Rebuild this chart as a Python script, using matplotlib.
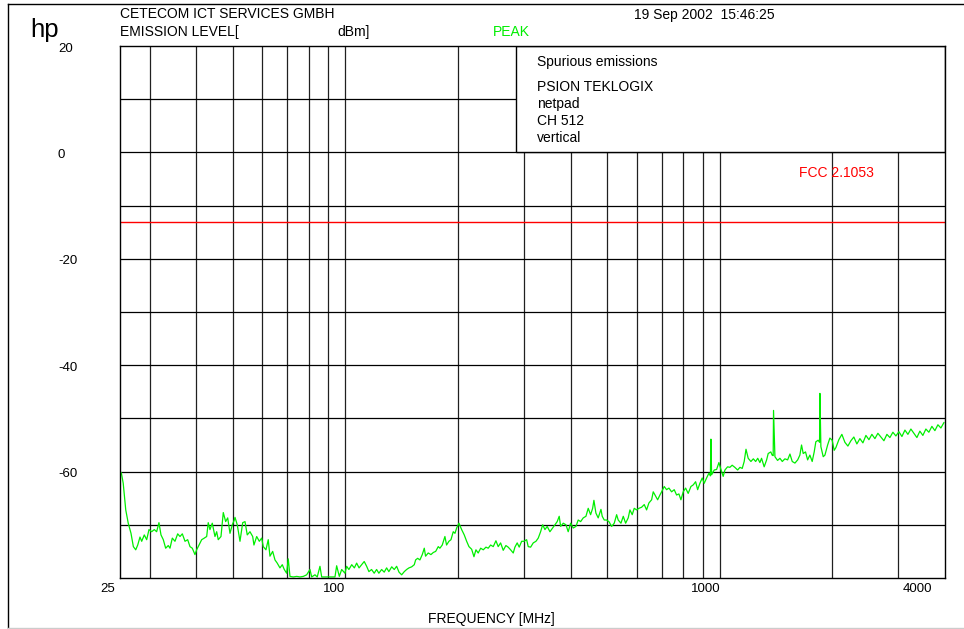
import matplotlib
matplotlib.use("Agg")
import matplotlib.pyplot as plt
from matplotlib import transforms
from matplotlib.patches import Rectangle
from matplotlib.lines import Line2D
from matplotlib.ticker import NullLocator

# ---------------- data ----------------
freq_mhz = [
    25.2, 25.5, 25.9, 26.3, 26.75, 27.14, 27.54, 27.88, 28.27, 28.57,
    29.03, 29.46, 29.88, 30.38, 30.87, 31.32, 31.77, 32.17, 32.63, 33.11,
    33.64, 34.00, 34.49, 35.06, 35.65, 36.16, 36.68, 37.29, 37.91, 38.45,
    39.00, 39.65, 40.06, 40.64, 41.32, 41.99, 42.61, 43.02, 43.48, 44.10,
    44.84, 45.31, 45.75, 46.53, 47.19, 47.89, 48.49, 49.18, 49.88, 50.50,
    50.72, 51.43, 52.30, 53.18, 53.94, 54.69, 55.61, 56.55, 56.99, 57.96,
    58.90, 59.76, 60.36, 61.36, 62.23, 62.89, 63.95, 64.86, 65.76, 66.88,
    67.84, 68.68, 69.69, 70.37, 71.13, 72.60, 74.12, 75.64, 77.20, 78.82,
    80.44, 81.29, 82.96, 84.12, 85.54, 86.44, 88.22, 90.97, 93.82, 94.79,
    96.35, 97.76, 99.77, 100.8, 102.2, 104.0, 105.7, 107.2, 108.8, 110.5,
    112.3, 114.0, 115.6, 117.5, 119.4, 121.2, 122.9, 125.0, 127.0, 128.9,
    130.7, 133.0, 135.1, 137.1, 139.1, 141.4, 143.7, 145.8, 147.9, 150.4,
    152.8, 154.1, 156.0, 158.2, 160.5, 162.5, 163.8, 166.5, 169.3, 171.8,
    174.3, 177.1, 178.9, 181.5, 184.5, 186.4, 189.1, 191.5, 194.2, 196.3,
    198.3, 201.1, 204.5, 207.8, 210.9, 213.9, 217.5, 220.6, 223.3, 226.4,
    229.9, 233.6, 237.5, 240.8, 244.4, 248.4, 252.5, 256.1, 259.9, 264.1,
    268.5, 272.3, 276.4, 280.9, 283.8, 287.8, 291.4, 295.8, 300.0, 305.0,
    308.0, 312.6, 317.7, 323.0, 327.6, 332.4, 336.6, 341.4, 346.1, 352.0,
    358.0, 363.0, 368.1, 372.7, 376.0, 382.1, 388.5, 393.9, 399.8, 406.3,
    413.1, 418.9, 425.2, 432.1, 439.3, 445.5, 452.1, 457.8, 461.4, 467.1,
    473.7, 481.8, 485.6, 491.7, 498.9, 506.0, 514.5, 522.9, 530.6, 535.8,
    544.9, 552.7, 560.8, 569.8, 575.8, 584.0, 591.3, 600.0, 608.6, 618.7,
    628.8, 638.0, 647.1, 658.0, 664.6, 674.4, 682.9, 692.5, 699.8, 711.1,
    721.6, 731.9, 744.1, 756.2, 767.3, 778.3, 788.0, 799.2, 811.1, 824.0,
    838.0, 850.0, 862.5, 873.4, 885.6, 898.3, 909.4, 922.8, 936.0, 944.7,
    947.6, 951.7, 967.1, 981.4, 995.4, 1008, 1022, 1033, 1050, 1065,
    1080, 1098, 1117, 1133, 1149, 1163, 1176, 1192, 1212, 1230,
    1248, 1264, 1281, 1294, 1315, 1335, 1348, 1370, 1381, 1390,
    1393, 1405, 1428, 1449, 1470, 1494, 1519, 1541, 1563, 1589,
    1616, 1638, 1655, 1672, 1696, 1718, 1742, 1767, 1789, 1807,
    1833, 1849, 1853, 1864, 1891, 1911, 1943, 1970, 1998, 2023,
    2044, 2082, 2121, 2161, 2201, 2242, 2283, 2326, 2370, 2414,
    2459, 2505, 2551, 2599, 2647, 2697, 2747, 2798, 2850, 2903,
    2957, 3012, 3069, 3126, 3184, 3243, 3303, 3365, 3427, 3491,
    3556, 3622, 3690, 3759, 3829, 3900, 3973,
]
level_dbm = [
    -60.2, -62.2, -67.2, -69.7, -71.6, -74.1, -74.7, -73.8, -72.3, -73.1,
    -71.9, -72.8, -70.9, -71.3, -70.9, -71.3, -69.6, -71.9, -72.8, -74.4,
    -73.9, -74.4, -72.5, -73.1, -71.7, -72.2, -71.7, -73.1, -72.8, -74.1,
    -74.4, -75.6, -74.7, -73.8, -72.8, -72.5, -72.2, -69.6, -70.9, -69.7,
    -72.2, -71.3, -72.8, -72.2, -67.7, -69.4, -68.7, -71.6, -70.0, -69.1,
    -68.6, -70.0, -73.1, -69.6, -69.4, -71.9, -71.3, -72.2, -73.8, -72.2,
    -73.1, -72.5, -74.1, -74.7, -72.8, -75.9, -75.0, -76.6, -77.2, -78.1,
    -77.5, -78.4, -79.1, -76.4, -79.7, -79.8, -79.7, -79.8, -79.7, -79.4,
    -78.4, -79.8, -79.4, -79.8, -77.8, -79.8, -79.8, -79.8, -79.8, -77.7,
    -79.7, -78.4, -79.1, -77.8, -78.4, -77.5, -78.1, -77.2, -78.1, -77.5,
    -76.9, -77.8, -78.8, -78.4, -79.1, -78.4, -79.1, -78.4, -78.9, -78.1,
    -78.8, -77.9, -78.4, -77.8, -78.9, -79.4, -78.8, -78.4, -78.1, -77.9,
    -77.5, -76.6, -76.3, -76.6, -75.6, -74.4, -75.9, -75.3, -75.6, -75.2,
    -75.0, -74.1, -74.4, -73.8, -72.2, -73.8, -73.1, -72.8, -71.3, -71.6,
    -70.6, -69.7, -70.9, -71.9, -73.1, -74.1, -74.6, -76.0, -74.7, -75.3,
    -74.4, -74.7, -74.2, -74.4, -73.8, -74.1, -73.0, -74.1, -73.4, -74.8,
    -73.9, -74.2, -74.7, -75.3, -74.2, -73.4, -74.2, -73.1, -73.1, -72.8,
    -74.1, -74.2, -73.4, -73.1, -72.5, -71.3, -70.0, -70.9, -70.3, -71.3,
    -70.6, -70.0, -69.4, -68.4, -70.3, -69.7, -70.0, -71.3, -69.7, -70.6,
    -70.3, -69.1, -69.4, -68.7, -68.4, -66.9, -68.1, -66.9, -65.4, -67.8,
    -68.7, -67.1, -68.4, -69.1, -69.1, -69.4, -70.3, -69.7, -68.1, -69.1,
    -69.7, -68.4, -69.7, -68.7, -67.2, -68.1, -66.9, -67.2, -66.9, -66.7,
    -66.2, -67.2, -65.9, -65.3, -63.8, -64.6, -65.3, -64.4, -63.8, -62.8,
    -63.4, -63.1, -63.8, -63.4, -64.4, -64.2, -65.3, -63.8, -63.1, -64.1,
    -62.8, -62.5, -61.9, -63.4, -62.2, -61.2, -62.2, -61.2, -60.3, -60.8,
    -53.9, -60.6, -59.7, -59.6, -58.3, -59.6, -60.9, -59.7, -59.1, -59.2,
    -58.8, -59.2, -59.7, -59.2, -59.4, -58.1, -55.8, -57.5, -58.1, -57.6,
    -58.1, -57.5, -58.3, -57.5, -59.1, -57.8, -56.6, -56.3, -56.9, -57.0,
    -48.5, -57.2, -57.9, -57.5, -58.1, -57.6, -57.8, -56.7, -58.1, -58.4,
    -57.8, -56.9, -55.0, -56.6, -56.3, -57.8, -56.9, -58.1, -56.3, -54.4,
    -54.1, -54.5, -45.3, -55.3, -57.2, -56.9, -55.0, -53.7, -54.1, -56.0,
    -55.5, -54.0, -53.0, -54.5, -55.2, -54.2, -53.5, -54.8, -53.8, -54.6,
    -53.2, -54.0, -53.0, -53.8, -52.8, -53.5, -54.2, -53.0, -53.6, -52.6,
    -53.3, -52.5, -53.4, -52.2, -53.0, -52.0, -52.8, -53.6, -52.4, -53.2,
    -52.0, -52.6, -51.5, -52.3, -51.2, -51.8, -50.8,
]
grid_freqs = [30, 40, 50, 60, 70, 80, 90, 100, 200, 300, 400, 500, 600,
              700, 800, 900, 1000, 2000, 3000]
grid_levels = [10, 0, -10, -20, -30, -40, -50, -60, -70]
xtick_vals = [25, 100, 1000, 4000]
xtick_labels = ["25", "100", "1000", "4000"]
ytick_vals = [20, 0, -20, -40, -60]
limit_dbm = -13
x_range = (25, 4000)
y_range = (-80, 20)
box_lines = ["Spurious emissions", "PSION TEKLOGIX", "netpad", "CH 512", "vertical"]

# ---------------- drawing ----------------
plt.rcParams['font.family'] = ['Liberation Sans', 'DejaVu Sans']
W, H = 964, 629
fig = plt.figure(figsize=(W / 100, H / 100), dpi=100)
fig.patch.set_facecolor('white')

ax = fig.add_axes([120 / W, 1 - 578 / H, 825 / W, 532 / H])
ax.set_xscale('log')
ax.set_xlim(*x_range)
ax.set_ylim(*y_range)
for a in (ax.xaxis, ax.yaxis):
    a.set_major_locator(NullLocator())
    a.set_minor_locator(NullLocator())
for s in ax.spines.values():
    s.set_linewidth(1.0)
    s.set_color('black')
    s.set_zorder(6)

ax.vlines(grid_freqs, y_range[0], y_range[1], colors='#202020', lw=0.9, zorder=1)
ax.hlines(grid_levels, x_range[0], x_range[1], colors='black', lw=0.9, zorder=1)

# info box covering the top band on the right
ax.add_patch(Rectangle((0.48, 0.8), 0.52, 0.2, transform=ax.transAxes,
                       facecolor='white', edgecolor='black', lw=1.0, zorder=2))

ax.axhline(limit_dbm, color='#ff0000', lw=1.0, zorder=3)
ax.plot(freq_mhz, level_dbm, color='#00ee00', lw=0.9, zorder=4)

def px(dx, dy):
    return transforms.ScaledTranslation(dx / 100, -dy / 100, fig.dpi_scale_trans)

# y labels (left-aligned, in margin)
ytr = transforms.blended_transform_factory(fig.transFigure, ax.transData)
for v in ytick_vals:
    ax.text(58 / W, v, str(v), transform=ytr + px(0, 2.5), ha='left',
            va='center', fontsize=9.5, clip_on=False)

# x labels
x_offsets = {25: -4.5, 100: 0, 1000: 1, 4000: -12.5}
xtr = ax.get_xaxis_transform()
for v, lab in zip(xtick_vals, xtick_labels):
    ax.text(v, 0, lab, transform=xtr + px(x_offsets[v], 11), ha='right',
            va='center', fontsize=9.5, clip_on=False)

def ftext(x, y, s, **kw):
    kw.setdefault('fontsize', 10)
    fig.text(x / W, 1 - y / H, s, va='baseline', **kw)

ftext(30, 37, "hp", fontsize=18.5)
ftext(120, 18.5, "CETECOM ICT SERVICES GMBH")
ftext(120, 36, "EMISSION LEVEL[")
ftext(337, 36, "dBm]")
ftext(493, 35.5, "PEAK", color='#00ee00')
ftext(634, 19, "19 Sep 2002  15:46:25")
for i, (yb, line) in enumerate(zip([66, 91, 108, 125, 142], box_lines)):
    ftext(537, yb, line, zorder=7)
ftext(799, 177, "FCC 2.1053", color='#ff0000')
ftext(428, 623, "FREQUENCY [MHz]")

# outer frame lines
fig.add_artist(Line2D([8 / W, 1], [1 - 4 / H, 1 - 4 / H], transform=fig.transFigure,
                      color='black', lw=1.0))
fig.add_artist(Line2D([8 / W, 8 / W], [1 - 4 / H, 0], transform=fig.transFigure,
                      color='black', lw=1.0))
fig.add_artist(Line2D([8 / W, 1], [1 - 628 / H, 1 - 628 / H], transform=fig.transFigure,
                      color='#cccccc', lw=1.0))

fig.savefig("out.png", dpi=100)
